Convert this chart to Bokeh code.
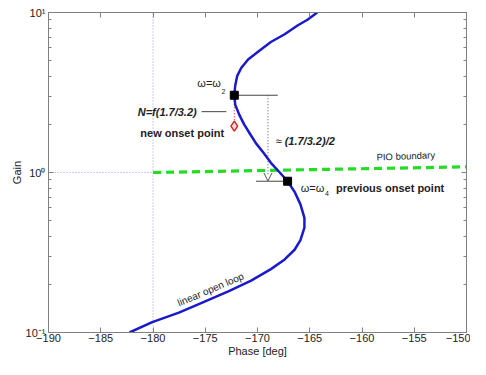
from bokeh.plotting import figure
from bokeh.models import (LogAxis, LinearAxis, FixedTicker, CustomJSTickFormatter,
                          Arrow, OpenHead, Label)
from bokeh.embed import file_html
from bokeh.resources import INLINE

# ---- data ----
phase = [-164.28, -165.22, -166.17, -167.40, -168.72, -169.95, -170.90, -171.56,
         -171.94, -172.13, -172.22, -172.13, -171.75, -171.28, -170.71, -170.14,
         -169.39, -168.72, -167.87, -167.12, -166.45, -165.89, -165.51, -165.51,
         -165.89, -166.45, -167.40, -168.72, -170.61, -172.79, -175.34, -177.52,
         -180.07, -182.25]
gain = [10.0, 9.01, 8.29, 7.31, 6.54, 5.69, 5.09, 4.50,
        4.02, 3.50, 3.04, 2.65, 2.30, 2.00, 1.74, 1.52,
        1.32, 1.15, 1.00, 0.882, 0.757, 0.632, 0.520, 0.453,
        0.378, 0.329, 0.286, 0.249, 0.211, 0.181, 0.153, 0.133,
        0.116, 0.10]

pio_phase = [-180.0, -150.0]
pio_gain = [1.0, 1.085]

onset_phase = [-172.22, -167.12]      # omega2, omega4
onset_gain = [3.04, 0.882]
new_onset_phase = [-172.22]
new_onset_gain = [1.95]

x_ticks = [-190, -185, -180, -175, -170, -165, -160, -155, -150]
y_ticks = [0.1, 1.0, 10.0]
y_minor = [0.2, 0.3, 0.4, 0.5, 0.6, 0.7, 0.8, 0.9, 2, 3, 4, 5, 6, 7, 8, 9]

FONT = "Liberation Sans"
TXT = "#222222"
AX = "#808080"

p = figure(width=470, height=359, x_range=(-190, -150), y_range=(0.1, 10),
           y_axis_type="log", output_backend="svg", toolbar_location=None,
           min_border_left=48, min_border_right=4, min_border_top=12,
           min_border_bottom=25, background_fill_color="white",
           border_fill_color="white")
p.xgrid.visible = False
p.ygrid.visible = False
p.outline_line_color = AX

xfmt = CustomJSTickFormatter(code="return tick < 0 ? '\u2212' + Math.abs(tick) : String(tick);")
yfmt = CustomJSTickFormatter(code="""
const e = Math.round(Math.log10(tick));
const m = {"-1": "\u207b\u00b9", "0": "\u2070", "1": "\u00b9"};
return "10" + m[String(e)];
""")
blank = CustomJSTickFormatter(code="return '';")


def style(ax):
    ax.axis_line_color = AX
    ax.major_tick_line_color = AX
    ax.minor_tick_line_color = AX
    ax.major_tick_in = 5
    ax.major_tick_out = 0
    ax.minor_tick_in = 3
    ax.minor_tick_out = 0
    ax.major_label_text_font = FONT
    ax.major_label_text_color = TXT
    ax.major_label_text_font_size = "11px"
    ax.major_label_standoff = 1
    ax.axis_label_text_font = FONT
    ax.axis_label_text_font_style = "normal"
    ax.axis_label_text_color = TXT
    ax.axis_label_text_font_size = "11px"
    ax.axis_label_standoff = 0


xt = FixedTicker(ticks=x_ticks, minor_ticks=[])
yt = FixedTicker(ticks=y_ticks, minor_ticks=y_minor)

p.xaxis.ticker = xt
p.xaxis.formatter = xfmt
p.xaxis.axis_label = "Phase [deg]"
p.yaxis.ticker = yt
p.yaxis.formatter = yfmt
p.yaxis.axis_label = "Gain"
style(p.xaxis[0])
style(p.yaxis[0])
p.yaxis[0].major_label_standoff = 3

top = LinearAxis(ticker=xt, formatter=blank)
style(top)
top.major_label_standoff = 0
p.add_layout(top, "above")
right = LogAxis(ticker=yt, formatter=blank)
style(right)
right.major_label_standoff = 0
p.add_layout(right, "right")

# reference lines at -180 deg / gain 1
p.line([-180, -180], [0.1, 10], line_color="#9a9ae0", line_width=1, line_dash="1 2")
p.line([-190, -180], [1, 1], line_color="#9a9ae0", line_width=1, line_dash="1 2")

# PIO boundary
p.line(pio_phase, pio_gain, line_color="#22dd22", line_width=3.2, line_dash="8 5")

# construction lines
p.segment(x0=[-172.22, -170.14, -175.35], y0=[3.04, 0.882, 2.40],
          x1=[-168.06, -167.12, -172.98], y1=[3.04, 0.882, 2.40],
          line_color="#444444", line_width=1)
p.line([-169.0, -169.0], [3.04, 0.95], line_color="#555555", line_width=1, line_dash="1 2")
p.add_layout(Arrow(end=OpenHead(size=8, line_color="#555555", line_width=1),
                   x_start=-169.0, y_start=1.3, x_end=-169.0, y_end=0.885,
                   line_alpha=0))
p.line([-172.22, -172.22], [3.04, 1.95], line_color="#dd2222", line_width=1, line_dash="1 2")

# open-loop curve
p.line(phase, gain, line_color="#1a1acc", line_width=2.5, line_join="round")

p.scatter(onset_phase, onset_gain, marker="square", size=8, fill_color="black",
          line_color="black")
p.scatter(new_onset_phase, new_onset_gain, marker="diamond", size=10,
          fill_color="#ffdddd", line_color="#dd2222", line_width=1.5)


def lab(x, y, text, size="11px", style="normal", align="left", angle=0.0):
    p.add_layout(Label(x=x, y=y, text=text, text_font=FONT, text_font_size=size,
                       text_font_style=style, text_color=TXT, text_align=align,
                       text_baseline="middle", angle=angle))


lab(-173.5, 3.6, "\u03c9=\u03c9", align="right")
lab(-173.45, 3.22, "2", size="7px")
lab(-175.82, 2.40, "N=f(1.7/3.2)", style="bold italic", align="right")
lab(-181.21, 1.77, "new onset point", style="bold")
lab(-168.25, 1.58, "\u2248")
lab(-167.4, 1.58, "(1.7/3.2)/2", style="bold italic")
lab(-155.81, 1.27, "PIO boundary", size="9.5px", align="center", angle=0.04)
lab(-163.6, 0.80, "\u03c9=\u03c9", align="right")
lab(-163.55, 0.736, "4", size="7px")
lab(-162.48, 0.80, "previous onset point", style="bold")
lab(-174.49, 0.186, "linear open loop", size="10px", align="center", angle=0.40)

open("out.html", "w").write(file_html(p, INLINE))
